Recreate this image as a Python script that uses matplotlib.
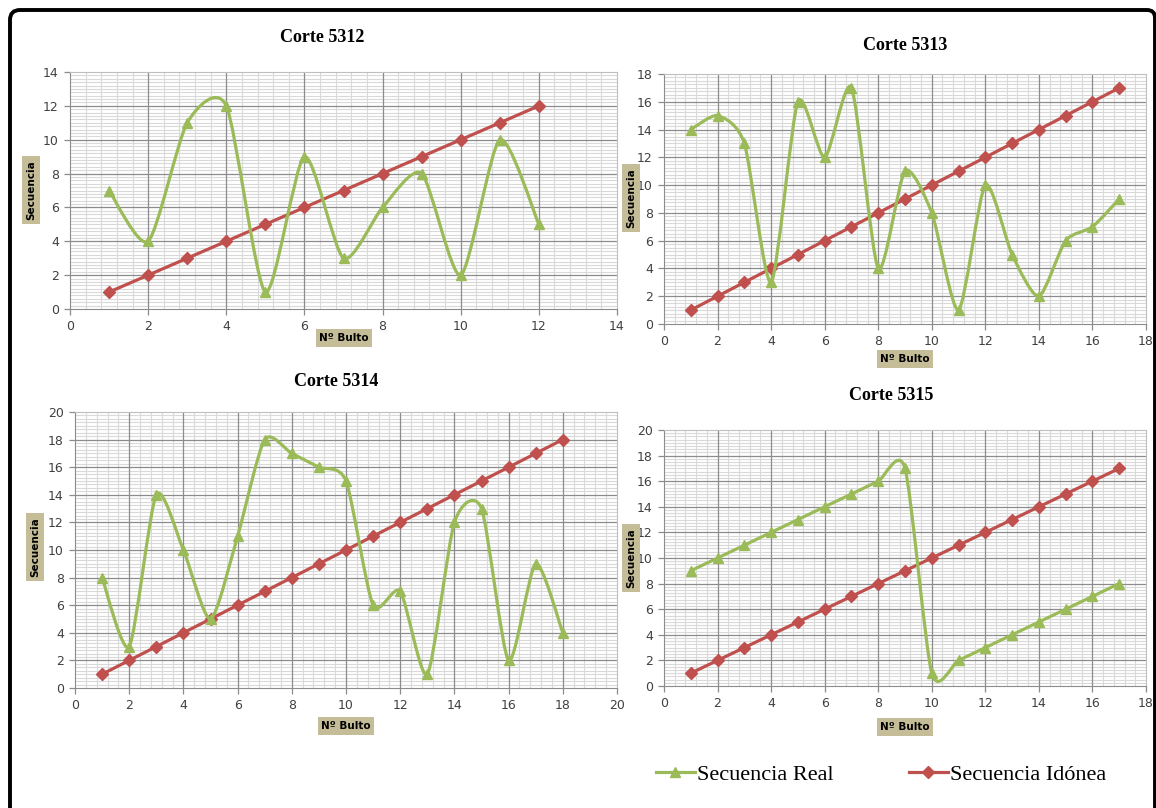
"""
Secuencia real vs. secuencia idónea para cuatro cortes (5312-5315).
Curvas suavizadas al estilo Excel (Bezier tipo Catmull-Rom).
"""

import matplotlib
matplotlib.use("Agg")
import matplotlib.pyplot as plt
import matplotlib.ticker as mticker
from matplotlib.path import Path
from matplotlib.patches import PathPatch
from matplotlib.lines import Line2D
import numpy as np

# ---------------------------------------------------------------------------
# Datos
# ---------------------------------------------------------------------------

titles = ["Corte 5312", "Corte 5313", "Corte 5314", "Corte 5315"]

real_5312 = [7, 4, 11, 12, 1, 9, 3, 6, 8, 2, 10, 5]
real_5313 = [14, 15, 13, 3, 16, 12, 17, 4, 11, 8, 1, 10, 5, 2, 6, 7, 9]
real_5314 = [8, 3, 14, 10, 5, 11, 18, 17, 16, 15, 6, 7, 1, 12, 13, 2, 9, 4]
real_5315 = [9, 10, 11, 12, 13, 14, 15, 16, 17, 1, 2, 3, 4, 5, 6, 7, 8]

ideal_5312 = list(range(1, 13))
ideal_5313 = list(range(1, 18))
ideal_5314 = list(range(1, 19))
ideal_5315 = list(range(1, 18))

x_max = [14, 18, 20, 18]
y_max = [14, 18, 20, 20]

# ---------------------------------------------------------------------------
# Estilo
# ---------------------------------------------------------------------------

W, H = 1156, 808
GREEN = "#9BBB59"
RED = "#C0504D"
TAN = "#C4BD97"
MAJOR_GRID = "#8C8C8C"
MINOR_GRID = "#D9D9D9"
TICK_TEXT = "#404040"

plt.rcParams.update({
    "font.family": "DejaVu Sans",
    "axes.edgecolor": MAJOR_GRID,
    "xtick.color": MAJOR_GRID,
    "ytick.color": MAJOR_GRID,
    "xtick.labelcolor": TICK_TEXT,
    "ytick.labelcolor": TICK_TEXT,
})

# posiciones de los ejes en píxeles: (izq, der, arriba, abajo)
axes_px = [(70, 617, 72, 309), (664, 1146, 74, 324),
           (75, 617, 412, 688), (664, 1146, 430, 686)]
title_px = [(322, 38), (905, 45), (336, 381), (891, 395)]
ylabel_px = [(31, 190), (631, 198), (35, 547), (631, 558)]
xlabel_px = [(344, 338), (905, 359), (346, 726), (905, 727)]
minor_y = [0.2, 0.25, 0.25, 0.25]


def fx(px):
    return px / W


def fy(py):
    return 1 - py / H


def smooth_path(xs, ys, t=0.12):
    """Bezier cúbico tipo Excel a partir de los puntos dados."""
    p = np.column_stack([xs, ys]).astype(float)
    n = len(p)
    verts = [p[0]]
    codes = [Path.MOVETO]
    for i in range(n - 1):
        prev = p[i - 1] if i > 0 else p[i]
        nxt = p[i + 2] if i + 2 < n else p[i + 1]
        c1 = p[i] + (p[i + 1] - prev) * t
        c2 = p[i + 1] - (nxt - p[i]) * t
        verts += [c1, c2, p[i + 1]]
        codes += [Path.CURVE4] * 3
    return Path(verts, codes)


fig = plt.figure(figsize=(W / 100, H / 100), dpi=100)

reals = [real_5312, real_5313, real_5314, real_5315]
ideals = [ideal_5312, ideal_5313, ideal_5314, ideal_5315]

for k in range(4):
    l, r, t, b = axes_px[k]
    ax = fig.add_axes([fx(l), fy(b), (r - l) / W, (b - t) / H])
    real = reals[k]
    ideal = ideals[k]
    xs = np.arange(1, len(real) + 1)

    ax.set_xlim(0, x_max[k])
    ax.set_ylim(0, y_max[k])
    ax.xaxis.set_major_locator(mticker.MultipleLocator(2))
    ax.yaxis.set_major_locator(mticker.MultipleLocator(2))
    ax.xaxis.set_minor_locator(mticker.MultipleLocator(0.4))
    ax.yaxis.set_minor_locator(mticker.MultipleLocator(minor_y[k]))
    ax.grid(which="minor", color=MINOR_GRID, linewidth=0.8)
    ax.set_axisbelow(True)
    # rejilla principal por encima de la secundaria
    for v in ax.get_xticks():
        if 0 < v < x_max[k]:
            ax.axvline(v, color=MAJOR_GRID, linewidth=0.9, zorder=1)
    for v in ax.get_yticks():
        if 0 < v < y_max[k]:
            ax.axhline(v, color=MAJOR_GRID, linewidth=0.9, zorder=1)
    ax.tick_params(which="minor", length=0)
    ax.tick_params(which="major", length=4, width=0.9, labelsize=9, pad=4)
    for side in ("top", "right"):
        ax.spines[side].set_color("#BFBFBF")

    # secuencia idónea
    ax.plot(xs, ideal, color=RED, linewidth=2.3, marker="D", markersize=5.8,
            zorder=3)
    # secuencia real (suavizada)
    ax.add_patch(PathPatch(smooth_path(xs, real), facecolor="none",
                           edgecolor=GREEN, linewidth=2.3, zorder=4))
    ax.plot(xs, real, linestyle="none", color=GREEN, marker="^",
            markersize=7.5, zorder=5)

    tx, ty = title_px[k]
    fig.text(fx(tx), fy(ty), titles[k], ha="center", va="center",
             fontsize=13, fontweight="bold", family="Liberation Serif")
    lx, ly = ylabel_px[k]
    fig.text(fx(lx), fy(ly), "Secuencia", rotation=90, ha="center",
             va="center", fontsize=7.5, fontweight="bold",
             bbox=dict(boxstyle="square,pad=0.35", fc=TAN, ec="none"))
    bx, by = xlabel_px[k]
    fig.text(fx(bx), fy(by), "Nº Bulto", ha="center", va="center",
             fontsize=7.5, fontweight="bold",
             bbox=dict(boxstyle="square,pad=0.35", fc=TAN, ec="none"))

# leyenda
handles = [
    Line2D([], [], color=GREEN, linewidth=2.3, marker="^", markersize=7.5),
    Line2D([], [], color=RED, linewidth=2.3, marker="D", markersize=5.8),
]
fig.legend(handles, ["Secuencia Real", "Secuencia Idónea"], loc="center",
           bbox_to_anchor=(fx(881), fy(775)), ncol=2, frameon=False,
           prop={"family": "Liberation Serif", "size": 16},
           handlelength=1.75, handletextpad=0.1, columnspacing=3.4)

# marco redondeado
border = Path(
    [(fx(10), fy(812)), (fx(10), fy(20)), (fx(10), fy(10)), (fx(20), fy(10)),
     (fx(1147), fy(10)), (fx(1155), fy(10)), (fx(1155), fy(18)),
     (fx(1155), fy(812))],
    [Path.MOVETO, Path.LINETO, Path.CURVE3, Path.CURVE3,
     Path.LINETO, Path.CURVE3, Path.CURVE3, Path.LINETO])
fig.add_artist(PathPatch(border, facecolor="none", edgecolor="black",
                         linewidth=2.8, transform=fig.transFigure))

fig.savefig("out.png", dpi=100)
